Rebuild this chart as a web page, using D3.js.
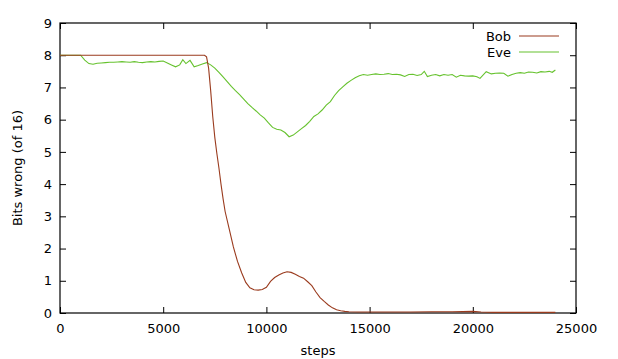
<!DOCTYPE html>
<html>
<head>
<meta charset="utf-8">
<script src="https://cdn.jsdelivr.net/npm/d3@7"></script>
<style>
html,body{margin:0;padding:0;background:#fff;}
svg{display:block;}
text{font-family:"DejaVu Sans",sans-serif;font-size:13px;fill:#000;}
</style>
</head>
<body>
<script>
const xTicks = [0, 5000, 10000, 15000, 20000, 25000];
const yTicks = [0, 1, 2, 3, 4, 5, 6, 7, 8, 9];
const seriesNames = ["Bob", "Eve"];

const bobSteps = [0,1000,2000,3000,4000,5000,6000,6800,7000,7100,7200,7300,7400,7500,7600,7700,7800,7900,8000,8200,8400,8600,8800,9000,9200,9400,9600,9800,10000,10200,10400,10600,10800,11000,11200,11400,11600,11800,12000,12200,12400,12600,12800,13000,13200,13400,13600,13800,14000,14500,15000,16000,17000,18000,19000,20000,20400,21000,22000,23000,24000];
const bobValues = [8.0,8.0,8.0,8.0,8.0,8.0,8.0,8.0,8.0,7.95,7.6,6.9,6.1,5.45,4.95,4.5,4.0,3.55,3.15,2.6,2.05,1.6,1.25,0.95,0.78,0.72,0.71,0.73,0.8,0.98,1.1,1.18,1.24,1.28,1.26,1.2,1.13,1.08,0.97,0.85,0.65,0.48,0.36,0.25,0.16,0.1,0.07,0.05,0.04,0.03,0.03,0.03,0.03,0.04,0.04,0.05,0.03,0.02,0.02,0.02,0.02];

const eveSteps = [0,500,1000,1200,1400,1600,1800,2000,2200,2400,2600,2800,3000,3200,3400,3600,3800,4000,4200,4400,4600,4800,5000,5200,5400,5600,5800,5950,6100,6300,6500,6700,6900,7100,7300,7500,7700,7900,8100,8300,8500,8700,8900,9100,9300,9500,9700,9900,10100,10300,10500,10700,10900,11100,11300,11500,11700,11900,12100,12300,12500,12700,12900,13100,13300,13500,13700,13900,14100,14300,14500,14700,14900,15100,15300,15500,15700,15900,16100,16300,16500,16700,16900,17100,17300,17500,17650,17800,18000,18200,18400,18600,18800,19000,19200,19400,19600,19800,20000,20200,20350,20650,20900,21100,21300,21500,21700,21900,22100,22300,22500,22700,22900,23100,23300,23500,23700,23850,24000];
const eveValues = [8.0,8.0,8.0,7.85,7.74,7.72,7.75,7.76,7.77,7.78,7.78,7.79,7.80,7.79,7.78,7.80,7.78,7.77,7.79,7.80,7.79,7.81,7.82,7.76,7.70,7.64,7.70,7.86,7.74,7.84,7.64,7.68,7.73,7.77,7.70,7.60,7.47,7.33,7.18,7.03,6.90,6.78,6.64,6.50,6.38,6.27,6.15,6.05,5.90,5.76,5.70,5.68,5.60,5.47,5.52,5.62,5.72,5.82,5.95,6.10,6.18,6.30,6.45,6.56,6.75,6.90,7.02,7.13,7.22,7.30,7.36,7.40,7.38,7.40,7.42,7.40,7.41,7.43,7.40,7.41,7.39,7.34,7.40,7.41,7.37,7.40,7.50,7.34,7.38,7.40,7.36,7.40,7.38,7.40,7.32,7.38,7.36,7.35,7.36,7.33,7.28,7.49,7.42,7.44,7.45,7.44,7.35,7.40,7.44,7.46,7.44,7.48,7.47,7.45,7.49,7.48,7.50,7.47,7.54];

const colors = ["#9a3b1e", "#66c22e"];

const W = 618, H = 359;
const m = {left: 60, right: 42, top: 23, bottom: 46};

const svg = d3.select("body").append("svg").attr("width", W).attr("height", H);

const x = d3.scaleLinear().domain([0, 25000]).range([m.left, W - m.right]);
const y = d3.scaleLinear().domain([0, 9]).range([H - m.bottom, m.top]);

const tickLen = 6;
// bottom axis
const gB = svg.append("g").attr("transform", `translate(0,${H - m.bottom})`)
  .call(d3.axisBottom(x).tickValues(xTicks).tickFormat(d3.format("d")).tickSizeInner(-tickLen).tickSizeOuter(0).tickPadding(tickLen + 5));
const gT = svg.append("g").attr("transform", `translate(0,${m.top})`)
  .call(d3.axisTop(x).tickValues(xTicks).tickFormat("").tickSizeInner(-tickLen).tickSizeOuter(0));
const gL = svg.append("g").attr("transform", `translate(${m.left},0)`)
  .call(d3.axisLeft(y).tickValues(yTicks).tickFormat(d3.format("d")).tickSizeInner(-tickLen).tickSizeOuter(0).tickPadding(8));
const gR = svg.append("g").attr("transform", `translate(${W - m.right},0)`)
  .call(d3.axisRight(y).tickValues(yTicks).tickFormat("").tickSizeInner(-tickLen).tickSizeOuter(0));

[gB, gT, gL, gR].forEach(g => {
  g.select(".domain").remove();
  g.selectAll("line").attr("stroke", "#000").attr("stroke-width", 1);
  g.selectAll("text").attr("font-family", "DejaVu Sans").attr("font-size", 13).attr("fill", "#000");
});

// frame
svg.append("rect")
  .attr("x", x(0)).attr("y", y(9))
  .attr("width", x(25000) - x(0)).attr("height", y(0) - y(9))
  .attr("fill", "none").attr("stroke", "#000").attr("stroke-width", 1.2);

const line = d3.line().x(d => x(d[0])).y(d => y(d[1]));
const bob = bobSteps.map((s, i) => [s, bobValues[i]]);
const eve = eveSteps.map((s, i) => [s, eveValues[i]]);

svg.append("path").datum(eve).attr("d", line).attr("fill", "none").attr("stroke", colors[1]).attr("stroke-width", 1.1);
svg.append("path").datum(bob).attr("d", line).attr("fill", "none").attr("stroke", colors[0]).attr("stroke-width", 1.1);

// legend
seriesNames.forEach((n, i) => {
  const yy = 36 + i * 16;
  svg.append("text").attr("x", 511).attr("y", yy).attr("dy", "0.35em").attr("text-anchor", "end").text(n);
  svg.append("line").attr("x1", 519).attr("x2", 559).attr("y1", yy).attr("y2", yy)
    .attr("stroke", colors[i]).attr("stroke-width", 1.1);
});

// axis labels
svg.append("text").attr("x", 318).attr("y", 355).attr("text-anchor", "middle").text("steps");
svg.append("text").attr("transform", `translate(22,${(y(0) + y(9)) / 2}) rotate(-90)`)
  .attr("text-anchor", "middle").text("Bits wrong (of 16)");
</script>
</body>
</html>
